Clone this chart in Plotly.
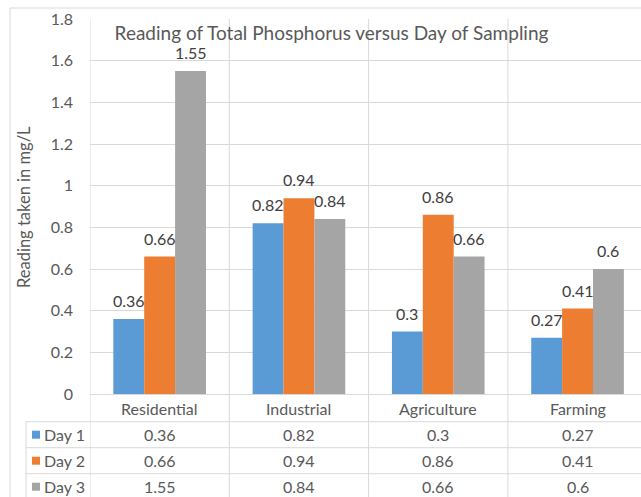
import plotly.graph_objects as go

categories = ["Residential", "Industrial", "Agriculture", "Farming"]
series_names = ["Day 1", "Day 2", "Day 3"]
day1 = [0.36, 0.82, 0.3, 0.27]
day2 = [0.66, 0.94, 0.86, 0.41]
day3 = [1.55, 0.84, 0.66, 0.6]
series_values = [day1, day2, day3]
colors = ["#5B9BD5", "#ED7D31", "#A5A5A5"]
y_ticks = [0, 0.2, 0.4, 0.6, 0.8, 1, 1.2, 1.4, 1.6, 1.8]
y_tick_labels = ["0", "0.2", "0.4", "0.6", "0.8", "1", "1.2", "1.4", "1.6", "1.8"]

FONT = "Lato"
W, H = 641, 497
PL, PR, PT, PB = 90, 641, 19, 394  # plot-area pixel edges
CAT_W = 139.3  # pixel width of one category
BARGAP = 0.335
GRID = "#D9D9D9"
TXT = "#595959"


def px(x):
    return (x - PL) / (PR - PL)


def py(y):
    return (PB - y) / (PB - PT)


fig = go.Figure()
for name, vals, col in zip(series_names, series_values, colors):
    fig.add_trace(go.Bar(
        x=categories, y=vals, name=name, marker=dict(color=col, line=dict(width=0)),
        hovertemplate="%{x}<br>" + name + ": %{y}<extra></extra>",
    ))

shapes = []
# outer chart border (left & top visible)
shapes.append(dict(type="line", xref="paper", yref="paper", x0=px(10), x1=px(700), y0=py(8), y1=py(8), line=dict(color=GRID, width=1)))
shapes.append(dict(type="line", xref="paper", yref="paper", x0=px(10), x1=px(10), y0=py(8), y1=py(520), line=dict(color=GRID, width=1)))
# table horizontal lines
row_lines = [421.7, 447.7, 473.7]
for yl in row_lines:
    shapes.append(dict(type="line", xref="paper", yref="paper", x0=px(26), x1=px(700), y0=py(yl), y1=py(yl), line=dict(color=GRID, width=1)))
# vertical lines at category boundaries (through plot and table)
for b in [-0.5, 0.5, 1.5, 2.5, 3.5]:
    shapes.append(dict(type="line", xref="x", yref="paper", x0=b, x1=b, y0=1, y1=py(520), line=dict(color=GRID, width=1)))
# legend column left border
shapes.append(dict(type="line", xref="paper", yref="paper", x0=px(26), x1=px(26), y0=py(421.7), y1=py(520), line=dict(color=GRID, width=1)))

annotations = []
# data labels above bars
bar_w = CAT_W * (1 - BARGAP) / len(series_names)
for i, vals in enumerate(series_values):
    off = (i - (len(series_names) - 1) / 2) * bar_w
    for c, v in zip(categories, vals):
        annotations.append(dict(x=c, xref="x", y=v, yref="y", text=f"{v:g}", showarrow=False,
                                xshift=off, yshift=7, xanchor="center", yanchor="bottom",
                                font=dict(family=FONT, size=16, color="#404040")))
# y axis title
annotations.append(dict(x=px(24), xref="paper", y=py(207), yref="paper", text="Reading taken in mg/L", textangle=-90,
                        showarrow=False, font=dict(family=FONT, size=16.5, color=TXT), xanchor="center", yanchor="middle"))
# category row
for c in categories:
    annotations.append(dict(x=c, xref="x", y=py(408), yref="paper", text=c, showarrow=False,
                            font=dict(family=FONT, size=16, color=TXT), xanchor="center", yanchor="middle"))
row_centers = [434.7, 460.7, 486.7]
for name, vals, col, yc in zip(series_names, series_values, colors, row_centers):
    shapes.append(dict(type="rect", xref="paper", yref="paper", x0=px(32), x1=px(40), y0=py(yc - 4), y1=py(yc + 4),
                       fillcolor=col, line=dict(width=0)))
    annotations.append(dict(x=px(42), xref="paper", y=py(yc), yref="paper", text=name, showarrow=False,
                            font=dict(family=FONT, size=16, color=TXT), xanchor="left", yanchor="middle"))
    for c, v in zip(categories, vals):
        annotations.append(dict(x=c, xref="x", y=py(yc), yref="paper", text=f"{v:g}", showarrow=False,
                                font=dict(family=FONT, size=16, color=TXT), xanchor="center", yanchor="middle"))

fig.update_layout(
    width=W, height=H,
    margin=dict(l=PL, r=W - PR, t=PT, b=H - PB, pad=0),
    paper_bgcolor="white", plot_bgcolor="white",
    barmode="group", bargap=BARGAP, bargroupgap=0,
    showlegend=False,
    font=dict(family=FONT, color=TXT),
    title=dict(text="Reading of Total Phosphorus versus Day of Sampling", xref="paper", yref="paper",
               x=px(331.5), y=py(33), xanchor="center", yanchor="middle",
               font=dict(family=FONT, size=19, color=TXT)),
    xaxis=dict(range=[-0.5, -0.5 + (PR - PL) / CAT_W], showticklabels=False, showgrid=False,
               zeroline=False, showline=False, ticks="", fixedrange=True),
    yaxis=dict(range=[0, 1.8], tickvals=y_ticks, ticktext=y_tick_labels, showgrid=True, gridcolor=GRID,
               gridwidth=1, zeroline=True, zerolinecolor=GRID, zerolinewidth=1, showline=False,
               ticks="", ticklabelstandoff=16, tickfont=dict(family=FONT, size=16, color=TXT)),
    shapes=shapes, annotations=annotations,
)
fig.write_html("out.html", config={"displayModeBar": False},
               post_script="document.body.style.margin='0';document.body.style.overflow='hidden';")
